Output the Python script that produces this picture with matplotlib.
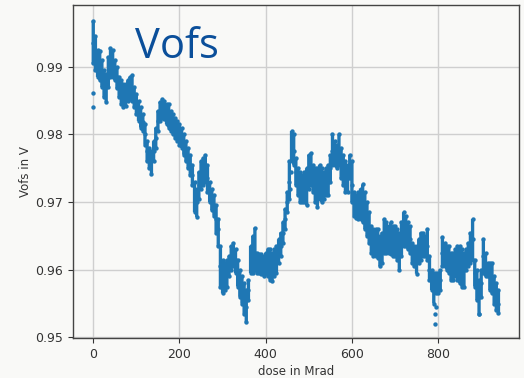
import numpy as np
import matplotlib
matplotlib.use("Agg")
import matplotlib.pyplot as plt

# dose steps (Mrad), offset voltage read per step in mV: upper edge, middle, lower edge of the band
dose = np.arange(0, 945, 5)

vofs_hi = [
    996.8, 994.5, 992.5, 992.3, 991.0, 989.5, 989.0, 991.5, 992.8, 992.5,
    991.0, 990.0, 988.5, 988.0, 987.5, 987.5, 988.0, 988.5, 988.8, 987.0,
    986.0, 985.0, 984.0, 983.0, 981.5, 979.0, 978.0, 977.5, 979.0, 981.0,
    983.5, 984.8, 985.2, 985.0, 984.5, 984.5, 983.5,
    983.0, 982.5, 982.0, 981.5, 981.0, 980.0, 979.0, 978.0, 977.0, 975.5,
    973.0, 972.0, 974.5, 976.0, 976.5, 977.0, 975.5, 973.0, 972.0, 971.0,
    969.5, 967.5, 963.5, 961.5, 961.0, 961.5, 962.0, 963.5, 964.0, 963.0,
    961.5, 960.0, 959.0, 958.0, 957.0, 958.5,
    963.5, 965.0, 966.2, 962.5, 962.3, 962.3, 962.0, 962.5, 963.0, 963.0,
    962.5, 963.0, 963.5, 964.5, 965.5, 967.0, 969.0, 971.5, 976.0, 980.5,
    980.0, 976.5, 975.0, 974.5, 974.0, 974.5, 975.0, 977.0, 977.3, 975.5,
    975.0,
    975.0, 975.5, 975.0, 974.5, 975.0, 975.5, 977.0, 980.0, 979.0, 978.5,
    980.0, 978.0, 977.0, 976.0, 975.5, 977.0, 976.0, 971.5, 971.0, 971.5,
    972.0, 972.6, 971.5, 970.0, 968.5, 966.5, 966.0, 966.0, 966.0, 965.0,
    965.5, 967.5, 967.0, 966.5, 967.0, 966.5,
    966.5, 966.0, 965.5, 967.0, 968.5, 968.0, 967.0, 966.5, 964.0, 963.5,
    963.5, 964.5, 965.5, 965.5, 965.0, 966.0, 962.0, 960.0, 959.5, 959.5,
    959.5, 960.0, 964.8, 964.0, 963.5, 963.5, 962.5, 962.5, 963.0,
    963.5, 963.5, 963.0, 962.5, 963.0, 964.0, 965.5, 967.5, 961.5, 960.0,
    958.5, 960.0, 964.5, 962.5, 961.0, 961.0, 961.0, 959.0, 958.0, 957.0,
]

vofs_mid = [
    993.5, 991.5, 990.5, 990.0, 989.0, 987.5, 987.0, 989.0, 990.5, 990.5,
    989.5, 988.5, 987.0, 986.0, 985.5, 986.0, 986.5, 987.0, 986.5, 985.5,
    984.5, 983.5, 982.5, 981.8, 980.0, 977.5, 976.5, 976.0, 977.5, 979.5,
    982.0, 983.5, 984.0, 983.8, 983.0, 982.5, 982.0,
    981.5, 981.0, 980.5, 980.0, 979.5, 978.5, 977.5, 976.5, 975.5, 974.0,
    971.0, 970.0, 972.5, 974.0, 974.5, 975.0, 973.5, 971.5, 970.5, 969.5,
    967.5, 966.0, 960.5, 959.0, 959.0, 959.5, 960.5, 962.0, 962.5, 961.5,
    959.5, 958.0, 957.0, 956.0, 954.5, 957.0,
    961.5, 962.0, 962.5, 961.0, 961.0, 960.8, 960.5, 961.0, 961.0, 961.0,
    960.5, 961.0, 961.5, 962.5, 963.5, 965.5, 967.5, 970.0, 973.0, 978.0,
    977.5, 974.5, 973.0, 972.5, 972.0, 972.5, 972.5, 974.5, 975.0, 973.5,
    972.5,
    972.0, 973.0, 972.5, 972.5, 973.0, 973.0, 975.0, 977.5, 977.5, 977.0,
    977.5, 976.0, 974.5, 974.0, 973.5, 975.5, 972.5, 970.0, 969.5, 969.5,
    970.0, 970.0, 968.5, 967.5, 966.0, 964.5, 964.0, 964.0, 963.5, 963.0,
    963.0, 965.0, 965.0, 964.5, 964.5, 964.0,
    964.0, 963.5, 963.0, 964.5, 966.0, 966.0, 965.0, 964.5, 962.5, 962.0,
    961.5, 963.0, 963.5, 963.5, 963.5, 963.5, 960.0, 958.5, 957.5, 958.0,
    958.0, 958.5, 962.5, 962.0, 961.5, 961.5, 960.5, 960.5, 961.0,
    961.0, 961.0, 960.0, 960.0, 961.5, 962.0, 963.0, 964.5, 959.5, 958.0,
    956.0, 958.0, 962.0, 960.5, 960.0, 959.0, 958.5, 957.0, 956.0, 955.0,
]

vofs_lo = [
    990.5, 989.5, 988.5, 988.0, 987.0, 985.5, 984.8, 987.0, 988.5, 988.5,
    988.0, 986.8, 985.5, 984.5, 984.0, 984.2, 985.0, 985.2, 985.0, 984.0,
    983.0, 982.0, 981.0, 980.5, 978.5, 976.0, 975.0, 974.2, 976.0, 978.0,
    980.5, 982.0, 982.5, 982.3, 981.5, 981.0, 980.5,
    980.0, 979.5, 979.0, 978.5, 978.0, 977.0, 976.0, 975.0, 974.0, 972.5,
    968.5, 967.8, 970.5, 972.0, 972.5, 973.0, 971.5, 970.0, 968.8, 968.0,
    965.5, 963.5, 957.5, 956.5, 957.0, 957.5, 959.0, 960.0, 960.5, 959.5,
    957.5, 956.0, 955.0, 953.5, 952.2, 955.5,
    959.5, 959.5, 960.0, 959.5, 959.5, 959.3, 959.0, 959.5, 959.0, 958.5,
    958.3, 959.0, 959.5, 961.0, 962.0, 964.0, 966.0, 968.5, 970.5, 976.0,
    975.5, 972.5, 971.0, 970.0, 970.0, 970.0, 969.5, 972.0, 972.5, 971.5,
    970.0,
    969.3, 970.5, 970.0, 970.5, 971.0, 971.0, 973.0, 975.5, 975.5, 975.0,
    975.5, 973.5, 972.5, 971.5, 971.5, 973.5, 970.0, 968.0, 967.7, 967.5,
    967.5, 967.0, 966.0, 965.0, 964.0, 962.5, 962.0, 962.0, 961.8, 960.5,
    961.0, 962.5, 962.5, 962.5, 962.3, 962.0,
    962.0, 961.5, 960.0, 962.0, 963.5, 963.5, 963.0, 962.5, 961.0, 960.5,
    959.4, 961.0, 961.5, 962.0, 962.0, 961.5, 958.5, 957.0, 955.0, 956.5,
    956.5, 957.0, 960.5, 960.5, 960.0, 959.5, 958.5, 958.5, 959.0,
    958.5, 958.0, 957.5, 957.5, 960.0, 960.5, 961.0, 961.5, 957.5, 955.5,
    953.5, 956.0, 959.5, 959.0, 959.0, 957.0, 956.5, 955.0, 954.0, 953.6,
]

# isolated readings away from the band
stray_dose = [0, 0, 792, 793, 795, 457, 458, 894]
stray_mv = [986.2, 984.0, 952.0, 953.5, 954.5, 972.0, 974.5, 953.4]

hi = np.array(vofs_hi) / 1000.0
mid = np.array(vofs_mid) / 1000.0
lo = np.array(vofs_lo) / 1000.0

x = np.concatenate([dose, dose, dose, stray_dose])
y = np.concatenate([hi, mid, lo, np.array(stray_mv) / 1000.0])

bg = "#f9f9f7"
blue = "#1f77b4"
plt.rcParams["font.family"] = "DejaVu Sans"
fig = plt.figure(figsize=(5.24, 3.78), dpi=100, facecolor=bg)
ax = fig.add_axes([0.1393, 0.1058, 0.8506, 0.881], facecolor=bg)

# spread of the readings in each dose step
ax.vlines(dose, lo, hi, color=blue, linewidth=2.4, snap=False, zorder=2)
ax.scatter(x, y, s=10, color=blue, linewidths=0, zorder=3)

ax.set_xlim(-47, 987)
ax.set_ylim(0.9499, 0.99914)
ax.set_xticks([0, 200, 400, 600, 800])
ax.set_yticks([0.95, 0.96, 0.97, 0.98, 0.99])
ax.grid(True, color="#cfcfcf", linewidth=1.0)
ax.set_axisbelow(True)
ax.tick_params(labelsize=9, colors="#333333", length=3.5)
for sp in ax.spines.values():
    sp.set_color("#444444")
    sp.set_linewidth(1.0)

ax.set_xlabel("dose in Mrad", fontsize=8.5, color="#333333", labelpad=3)
ax.set_ylabel("Vofs in V", fontsize=8.5, color="#333333", labelpad=2.5)

fig.text(135 / 524, 1 - 57.7 / 378, "Vofs", fontsize=30, color="#0b4f9a",
         family=["Open Sans", "DejaVu Sans"], va="baseline", ha="left")

plt.savefig("out.png", dpi=100, facecolor=bg)
